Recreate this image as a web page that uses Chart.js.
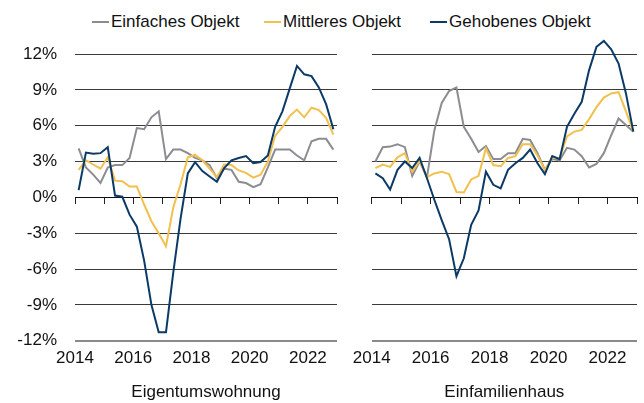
<!DOCTYPE html>
<html>
<head>
<meta charset="utf-8">
<script src="https://cdn.jsdelivr.net/npm/chart.js@4.4.1/dist/chart.umd.min.js"></script>
<style>
  html, body { margin: 0; padding: 0; background: #fff; }
  body { width: 644px; height: 403px; position: relative; overflow: hidden; font-family: "Liberation Sans", Arial, sans-serif; }
  #links { position: absolute; left: 0; top: 0; }
  #rechts { position: absolute; left: 344px; top: 0; }
  #legende { position: absolute; left: 0; top: 12px; width: 644px; height: 20px; font-size: 17px; color: #111; line-height: 20px; }
  .eintrag { position: absolute; top: 0; display: flex; align-items: center; white-space: nowrap; }
  .strich { display: inline-block; width: 17px; height: 2px; margin-right: 2px; }
</style>
</head>
<body>
<div id="legende"></div>
<canvas id="links" width="344" height="403"></canvas>
<canvas id="rechts" width="300" height="403"></canvas>
<script>
// Quartale 2014 Q1 bis 2022 Q4
const quartale = [];
for (let j = 2014; j <= 2022; j++) for (let q = 1; q <= 4; q++) quartale.push(j + ' Q' + q);

const serien = ['Einfaches Objekt', 'Mittleres Objekt', 'Gehobenes Objekt'];
const farben = ['#8c8c92', '#f1c04e', '#0b3a66'];
const legendeX = [92, 264, 430];

const yTicks = [-12, -9, -6, -3, 0, 3, 6, 9, 12];
const xLabels = [2014, 2016, 2018, 2020, 2022];

// Eigentumswohnung (Veränderung ggü. Vorjahr, %)
const ewEinfach = [4.1, 2.5, 1.9, 1.2, 2.5, 2.7, 2.7, 3.3, 5.8, 5.7, 6.7, 7.2, 3.2, 4.0, 4.0, 3.7, 3.3, 3.1, 2.7, 1.6, 2.4, 2.3, 1.3, 1.2, 0.85, 1.1, 2.5, 4.0, 4.0, 4.0, 3.5, 3.1, 4.7, 4.9, 4.9, 4.0];
const ewMittel = [2.3, 3.1, 2.75, 2.4, 3.35, 1.4, 1.35, 0.9, 0.9, -0.6, -2.0, -3.0, -4.1, -0.85, 1.1, 3.35, 3.55, 3.1, 2.4, 1.7, 2.75, 2.7, 2.25, 2.05, 1.65, 1.9, 3.0, 5.15, 5.9, 6.8, 7.35, 6.7, 7.5, 7.3, 6.65, 5.25];
const ewGehoben = [0.6, 3.75, 3.65, 3.7, 4.2, 0.15, 0.05, -1.45, -2.45, -5.3, -9.0, -11.3, -11.3, -6.3, -1.8, 2.0, 2.95, 2.2, 1.75, 1.3, 2.45, 3.1, 3.3, 3.45, 2.85, 2.95, 3.5, 5.9, 7.2, 9.1, 11.0, 10.3, 10.15, 9.2, 7.8, 5.7];

// Einfamilienhaus
const efhEinfach = [3.0, 4.2, 4.25, 4.45, 4.2, 1.8, 3.0, 1.7, 5.6, 7.9, 8.9, 9.2, 5.9, 4.9, 3.8, 4.3, 3.2, 3.2, 3.7, 3.7, 4.9, 4.8, 3.7, 2.3, 3.2, 3.1, 4.15, 4.0, 3.45, 2.5, 2.8, 3.7, 5.2, 6.6, 6.05, 5.5];
const efhMittel = [2.45, 2.75, 2.55, 3.35, 3.7, 2.15, 3.05, 1.7, 2.0, 2.15, 1.95, 0.45, 0.4, 1.5, 1.8, 4.1, 2.7, 2.6, 3.3, 3.45, 4.45, 4.45, 3.5, 2.3, 3.3, 3.3, 5.1, 5.5, 5.65, 6.55, 7.55, 8.35, 8.7, 8.8, 7.2, 5.5];
const efhGehoben = [2.0, 1.6, 0.65, 2.3, 3.0, 2.45, 3.3, 1.6, -0.2, -1.9, -3.5, -6.6, -5.1, -2.3, -1.1, 2.15, 1.05, 0.75, 2.3, 2.85, 3.3, 4.0, 2.85, 1.95, 3.45, 3.2, 5.9, 7.0, 8.0, 10.65, 12.6, 13.1, 12.4, 11.2, 8.7, 5.5];

Chart.defaults.font.family = '"Liberation Sans", Arial, sans-serif';
Chart.defaults.font.size = 17;
Chart.defaults.color = '#111';

// Quartal in der Mitte des Quartals platzieren
function xWert(label) {
    const [jahr, q] = label.split(' Q');
    return Number(jahr) + (Number(q) - 0.5) / 4;
}

function punkte(werte) {
    return quartale.map((l, i) => ({ x: xWert(l), y: werte[i] }));
}

// Legende als HTML
const legende = document.getElementById('legende');
serien.forEach((name, i) => {
    const e = document.createElement('div');
    e.className = 'eintrag';
    e.style.left = legendeX[i] + 'px';
    e.innerHTML = '<span class="strich" style="background:' + farben[i] + '"></span>' + name;
    legende.appendChild(e);
});

function panel(canvasId, einfach, mittel, gehoben, titel, links) {
    new Chart(document.getElementById(canvasId), {
        type: 'line',
        data: {
            datasets: [
                { label: serien[2], data: punkte(gehoben), borderColor: farben[2], clip: false },
                { label: serien[1], data: punkte(mittel), borderColor: farben[1], clip: false },
                { label: serien[0], data: punkte(einfach), borderColor: farben[0], clip: false }
            ]
        },
        options: {
            responsive: false,
            animation: false,
            layout: { padding: { top: 54, bottom: 0, left: links ? 0 : 27.7, right: links ? 2.3 : 6.3 } },
            elements: {
                point: { radius: 0 },
                line: { borderWidth: 2, tension: 0, fill: false }
            },
            plugins: {
                legend: { display: false },
                tooltip: { enabled: false }
            },
            scales: {
                x: {
                    type: 'linear',
                    min: 2014,
                    max: 2023,
                    grid: { display: false, drawTicks: false },
                    border: { display: false },
                    ticks: {
                        stepSize: 1,
                        autoSkip: false,
                        maxRotation: 0,
                        padding: 7,
                        callback: v => xLabels.includes(v) ? String(v) : ''
                    },
                    title: { display: true, text: titel, padding: { top: 7.5, bottom: 0 } }
                },
                x2: {
                    type: 'linear',
                    position: { y: 0 },
                    min: 2014,
                    max: 2023,
                    ticks: { display: false, stepSize: 1 },
                    grid: { drawOnChartArea: false, drawTicks: true, tickLength: 6, color: '#222' },
                    border: { display: true, color: '#111' }
                },
                y: {
                    min: -12,
                    max: 12,
                    afterBuildTicks: s => { s.ticks = yTicks.map(v => ({ value: v })); },
                    afterFit: s => { s.width = links ? 75 : 0; },
                    ticks: {
                        display: links,
                        padding: 18,
                        callback: v => v + '%'
                    },
                    grid: {
                        drawTicks: false,
                        color: c => c.tick && c.tick.value === -12 ? '#8a8a8a' : '#3a3a3a',
                        lineWidth: c => c.tick && c.tick.value === -12 ? 2 : 1
                    },
                    border: { display: false }
                }
            }
        }
    });
}

panel('links', ewEinfach, ewMittel, ewGehoben, 'Eigentumswohnung', true);
panel('rechts', efhEinfach, efhMittel, efhGehoben, 'Einfamilienhaus', false);
</script>
</body>
</html>
